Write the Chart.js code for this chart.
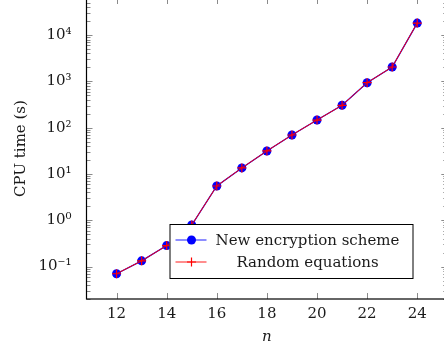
<!DOCTYPE html>
<html>
<head>
<meta charset="utf-8">
<script src="https://cdn.jsdelivr.net/npm/chart.js@4.4.1/dist/chart.umd.min.js"></script>
<style>
  html, body { margin: 0; padding: 0; background: #fff; overflow: hidden; }
  #cpuChart { position: absolute; left: 0; top: -18px; }
</style>
</head>
<body>
<canvas id="cpuChart" width="453" height="369"></canvas>
<script>
// values (log scale)
const nValues = [12, 13, 14, 15, 16, 17, 18, 19, 20, 21, 22, 23, 24];
const newScheme = [0.07, 0.133, 0.284, 0.79, 5.5, 13.5, 31.4, 69.5, 146, 304, 935, 2040, 18150];
const randomEq = [0.07, 0.133, 0.284, 0.79, 5.5, 13.5, 31.4, 69.5, 146, 304, 935, 2040, 18150];
const seriesNames = ['New encryption scheme', 'Random equations'];
const xTicks = [12, 14, 16, 18, 20, 22, 24];
const yTicks = [0.1, 1, 10, 100, 1000, 10000];
const yTickLabels = ['10⁻¹', '10⁰', '10¹', '10²', '10³', '10⁴'];

const FONT = "'DejaVu Serif', 'Liberation Serif', serif";
Chart.defaults.font.family = FONT;
Chart.defaults.font.size = 15;
Chart.defaults.color = '#1a1a1a';

const yMin = Math.pow(10, -1.7);
const yMax = Math.pow(10, 4.8);

// box + inward tick marks, pgfplots style
const frameTicks = {
    id: 'frameTicks',
    afterDatasetsDraw(chart) {
        const { ctx, chartArea: a, scales: { x, y } } = chart;
        ctx.save();
        ctx.strokeStyle = '#8a8a8a';
        ctx.lineWidth = 1;
        ctx.beginPath();
        xTicks.forEach(v => {
            const px = Math.round(x.getPixelForValue(v)) + 0.5;
            ctx.moveTo(px, a.bottom); ctx.lineTo(px, a.bottom - 6);
            ctx.moveTo(px, a.top); ctx.lineTo(px, a.top + 6);
        });
        for (let e = -2; e <= 4; e++) {
            for (let m = 1; m <= 9; m++) {
                const v = m * Math.pow(10, e);
                if (v < yMin || v > yMax) continue;
                const len = m === 1 ? 6 : 4;
                const py = Math.round(y.getPixelForValue(v)) + 0.5;
                ctx.moveTo(a.left, py); ctx.lineTo(a.left + len, py);
                ctx.moveTo(a.right, py); ctx.lineTo(a.right - len, py);
            }
        }
        ctx.stroke();
        ctx.strokeStyle = '#000';
        ctx.lineWidth = 1.2;
        ctx.strokeRect(a.left, a.top, a.right - a.left, a.bottom - a.top);
        ctx.restore();
    },
    afterDraw(chart) {
        // legend box, bottom right inside the plot
        const { ctx, chartArea: a } = chart;
        const ds = chart.data.datasets;
        const bx = a.left + 83, by = a.bottom - 75, bw = 243, bh = 54;
        ctx.save();
        ctx.fillStyle = '#fff';
        ctx.fillRect(bx, by, bw, bh);
        ctx.strokeStyle = '#000';
        ctx.lineWidth = 1;
        ctx.strokeRect(bx + 0.5, by + 0.5, bw, bh);
        ctx.font = '15px ' + FONT;
        ctx.textAlign = 'center';
        ctx.textBaseline = 'middle';
        [16, 38].forEach((dy, i) => {
            const d = ds[i];
            const ly = by + dy;
            ctx.strokeStyle = d.borderColor;
            ctx.globalAlpha = 0.6;
            ctx.lineWidth = 1.5;
            ctx.beginPath();
            ctx.moveTo(bx + 6, ly); ctx.lineTo(bx + 37, ly);
            ctx.stroke();
            ctx.globalAlpha = 1;
            if (i === 0) {
                ctx.fillStyle = d.pointBackgroundColor;
                ctx.beginPath();
                ctx.arc(bx + 22, ly, 4.5, 0, Math.PI * 2);
                ctx.fill();
            } else {
                ctx.strokeStyle = d.pointBorderColor;
                ctx.lineWidth = 1.2;
                ctx.beginPath();
                ctx.moveTo(bx + 17.5, ly); ctx.lineTo(bx + 26.5, ly);
                ctx.moveTo(bx + 22, ly - 4.5); ctx.lineTo(bx + 22, ly + 4.5);
                ctx.stroke();
            }
            ctx.fillStyle = '#1a1a1a';
            ctx.fillText(d.label, bx + 138, ly + 1);
        });
        ctx.restore();
    }
};

new Chart(document.getElementById('cpuChart'), {
    type: 'line',
    data: {
        datasets: [{
            label: seriesNames[0],
            data: nValues.map((n, i) => ({ x: n, y: newScheme[i] })),
            borderColor: '#0000ff',
            borderWidth: 1.3,
            pointStyle: 'circle',
            pointRadius: 4.5,
            pointBackgroundColor: '#0000ff',
            pointBorderColor: '#0000ff',
            pointBorderWidth: 0,
            order: 1
        }, {
            label: seriesNames[1],
            data: nValues.map((n, i) => ({ x: n, y: randomEq[i] })),
            borderColor: '#ff0000',
            borderWidth: 1,
            pointStyle: 'cross',
            pointRadius: 4.5,
            pointBackgroundColor: '#ff0000',
            pointBorderColor: '#ff0000',
            pointBorderWidth: 1.2,
            order: 0
        }]
    },
    options: {
        responsive: false,
        animation: false,
        layout: { padding: { top: 2, right: 1.5, left: 0, bottom: 0 } },
        plugins: {
            legend: { display: false },
            tooltip: { enabled: false }
        },
        scales: {
            x: {
                type: 'linear',
                min: 10.8,
                max: 25.2,
                afterFit: s => { s.height = 52; },
                afterBuildTicks: s => { s.ticks = xTicks.map(v => ({ value: v })); },
                grid: { display: false },
                border: { display: false },
                ticks: { padding: -2, autoSkip: false, maxRotation: 0 },
                title: {
                    display: true,
                    text: 'n',
                    font: { style: 'italic', size: 15 },
                    padding: { top: 0, bottom: 5 }
                }
            },
            y: {
                type: 'logarithmic',
                min: yMin,
                max: yMax,
                afterFit: s => { s.width = 86.5; },
                afterBuildTicks: s => { s.ticks = yTicks.map(v => ({ value: v })); },
                grid: { display: false },
                border: { display: false },
                ticks: {
                    padding: 7,
                    autoSkip: false,
                    callback: v => {
                        const k = yTicks.findIndex(t => Math.abs(t - v) / t < 1e-6);
                        return k >= 0 ? yTickLabels[k] : '';
                    }
                },
                title: {
                    display: true,
                    text: 'CPU time (s)',
                    font: { size: 15 },
                    padding: { top: 12, bottom: 0 }
                }
            }
        }
    },
    plugins: [frameTicks]
});
</script>
</body>
</html>
